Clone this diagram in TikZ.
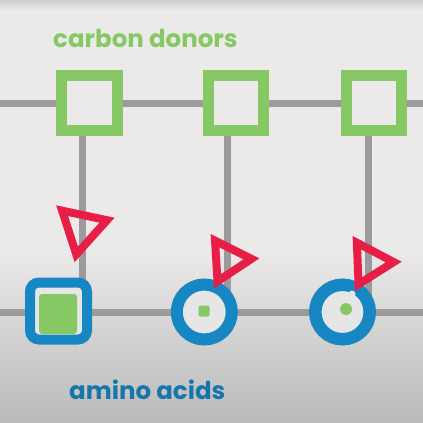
\documentclass[tikz,border=0pt]{standalone}
\usepackage{fontspec}
\newfontfamily\labelfont{Poppins}
\usetikzlibrary{shapes.geometric,positioning}
\definecolor{donorgreen}{RGB}{134,200,100}
\definecolor{acidblue}{RGB}{22,135,195}
\definecolor{textblue}{RGB}{22,118,170}
\definecolor{flagred}{RGB}{233,30,70}
\definecolor{trackgray}{RGB}{155,155,155}
\definecolor{bgtop}{RGB}{235,234,233}
\definecolor{bgbottom}{RGB}{186,186,186}
\definecolor{innergray}{RGB}{230,230,230}

\begin{document}
\begin{tikzpicture}[x=1pt,y=-1pt,
    track/.style={draw=trackgray,line width=7pt},
    donor/.style={draw=donorgreen,line width=11pt,fill=bgtop,minimum size=55.7pt,inner sep=0pt},
    acid/.style={draw=acidblue,line width=12pt,fill=innergray,circle,minimum size=55pt,inner sep=0pt},
    core/.style={fill=donorgreen,inner sep=0pt},
    flag/.style={draw=flagred,line width=8pt,regular polygon,regular polygon sides=3,inner sep=0pt,outer sep=0pt},
    titletext/.style={font=\labelfont\bfseries\fontsize{24.5}{28}\selectfont,anchor=base west,inner sep=0pt}]
  \useasboundingbox (0,0) rectangle (423,423);
  \fill[bgtop] (0,0) rectangle (423,423);
  \shade[top color=bgtop,bottom color=bgbottom] (0,250) rectangle (423,423);
  \shade[top color=black!20,bottom color=bgtop] (0,0) rectangle (423,10);

  \coordinate (L1) at (0,103);
  \coordinate (R1) at (423,103);
  \coordinate (L2) at (0,312);
  \coordinate (R2) at (423,312);
  \draw[track] (L1) -- (R1);
  \draw[track] (L2) -- (R2);
  \foreach \x [count=\n] in {82,227,368} {
    \coordinate (T\n) at (\x,103);
    \coordinate (B\n) at (\x,312);
    \draw[track] (T\n) -- (B\n);
  }

  \foreach \x [count=\n] in {89.3,236,374}
    \node[donor] (D\n) at (\x,103) {};

  \node[acid,rectangle,rounded corners=9pt,line width=10pt,minimum size=57pt] (A1) at (58.5,311) {};
  \node[core,minimum width=38pt,minimum height=40pt,rounded corners=3pt] (G1) at (58,314) {};
  \node[acid] (A2) at (204.3,312) {};
  \node[core,minimum size=11pt,rounded corners=2pt] (G2) at (204,311) {};
  \node[acid,minimum size=54.5pt,line width=12.5pt] (A3) at (342.5,312) {};
  \fill[innergray] (352,294) circle (3.5);
  \node[core,circle,minimum size=12pt] (G3) at (346,309) {};

  \node[flag,minimum size=53pt,rotate=48] (F1) at (81.8,228.4) {};
  \node[flag,minimum size=47pt,rotate=-86.5] (F2) at (228,260.3) {};
  \node[flag,minimum size=48pt,rotate=-87.7] (F3) at (369.7,263) {};

  \node[titletext,text=donorgreen] (CD) at (53,47) {carbon donors};
  \node[titletext,text=textblue] (AA) at (69,399) {amino acids};
\end{tikzpicture}
\end{document}
